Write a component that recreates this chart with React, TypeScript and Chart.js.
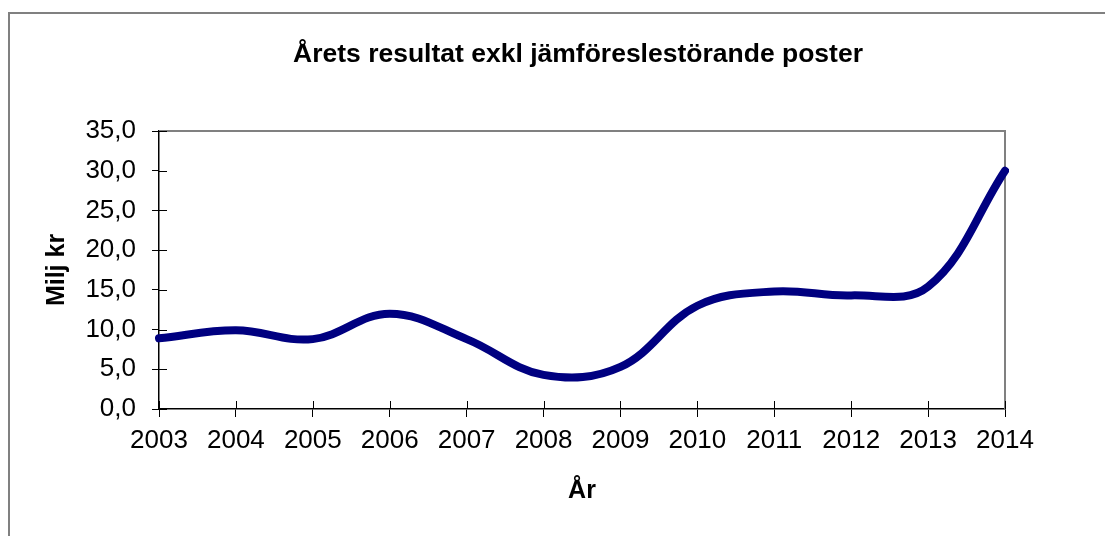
import React, { useEffect, useRef } from "react";
import { Chart, registerables } from "chart.js";

Chart.register(...registerables);

const years = ["2003", "2004", "2005", "2006", "2007", "2008", "2009", "2010", "2011", "2012", "2013", "2014"];
const resultat = [8.9, 9.9, 8.8, 12.0, 8.8, 4.3, 5.3, 13.0, 14.8, 14.3, 15.4, 30.0];
const yMin = 0;
const yMax = 35;
const yStep = 5;
const chartTitle = "Årets resultat exkl jämföreslestörande poster";
const yTitle = "Milj kr";
const xTitle = "År";

const FONT = '"Liberation Sans", Arial, Helvetica, sans-serif';

const framePlugin = {
  id: "excelFrame",
  beforeDatasetsDraw(chart: any) {
    const { ctx, chartArea, scales } = chart;
    const { left, right, top, bottom } = chartArea;
    ctx.save();
    ctx.strokeStyle = "#808080";
    ctx.lineWidth = 2;
    ctx.beginPath();
    ctx.moveTo(left, top);
    ctx.lineTo(right, top);
    ctx.lineTo(right, bottom);
    ctx.stroke();
    // inner halves of the crossing tick marks
    ctx.strokeStyle = "#000";
    ctx.lineWidth = 1;
    ctx.beginPath();
    scales.x.ticks.forEach((_: any, i: number) => {
      const px = Math.round(scales.x.getPixelForTick(i)) + 0.5;
      ctx.moveTo(px, bottom);
      ctx.lineTo(px, bottom - 8);
    });
    scales.y.ticks.forEach((_: any, i: number) => {
      const py = Math.round(scales.y.getPixelForTick(i)) + 0.5;
      ctx.moveTo(left, py);
      ctx.lineTo(left + 8, py);
    });
    ctx.stroke();
    ctx.restore();
  },
  afterDraw(chart: any) {
    const { ctx, chartArea } = chart;
    ctx.save();
    ctx.font = `bold 26.5px ${FONT}`;
    ctx.fillStyle = "#000";
    ctx.textAlign = "center";
    ctx.textBaseline = "alphabetic";
    ctx.fillText(chartTitle, (chartArea.left + chartArea.right) / 2 - 4, 62);
    ctx.restore();
  },
};

export default function App() {
  const canvasRef = useRef<HTMLCanvasElement | null>(null);

  useEffect(() => {
    if (!canvasRef.current) return;
    const chart = new Chart(canvasRef.current, {
      type: "line",
      data: {
        labels: years,
        datasets: [
          {
            label: chartTitle,
            data: resultat,
            borderColor: "#000080",
            backgroundColor: "#000080",
            borderWidth: 8,
            borderCapStyle: "round",
            borderJoinStyle: "round",
            tension: 0.38,
            pointRadius: 0,
            pointHoverRadius: 0,
            fill: false,
          },
        ],
      },
      options: {
        animation: false,
        responsive: false,
        layout: { padding: { top: 131, right: 104, bottom: 0, left: 0 } },
        plugins: {
          legend: { display: false },
          title: { display: false },
          tooltip: { enabled: false },
        },
        scales: {
          x: {
            type: "category",
            offset: false,
            afterFit: (scale: any) => {
              scale.height = 127;
            },
            grid: {
              display: true,
              drawOnChartArea: false,
              drawTicks: true,
              tickLength: 8,
              color: "#000",
              lineWidth: 1,
            },
            border: { display: true, color: "#000", width: 1.5 },
            ticks: {
              color: "#000",
              font: { family: FONT, size: 26 },
              padding: 8,
              autoSkip: false,
              maxRotation: 0,
              minRotation: 0,
            },
            title: {
              display: true,
              text: xTitle,
              color: "#000",
              font: { family: FONT, size: 25, weight: "bold" },
              padding: { top: 0, bottom: 30 },
            },
          },
          y: {
            min: yMin,
            max: yMax,
            afterFit: (scale: any) => {
              scale.width = 159;
            },
            grid: {
              display: true,
              drawOnChartArea: false,
              drawTicks: true,
              tickLength: 7,
              color: "#000",
              lineWidth: 1,
            },
            border: { display: true, color: "#000", width: 1.5 },
            ticks: {
              stepSize: yStep,
              color: "#000",
              font: { family: FONT, size: 26 },
              padding: 16,
              callback: (v: any) => Number(v).toFixed(1).replace(".", ","),
            },
            title: {
              display: true,
              text: yTitle,
              color: "#000",
              font: { family: FONT, size: 25, weight: "bold" },
              padding: { top: 42, bottom: 0 },
            },
          },
        },
      },
      plugins: [framePlugin],
    });
    return () => chart.destroy();
  }, []);

  return (
    <div style={{ position: "absolute", left: 0, top: 0, width: 1109, height: 536, background: "#fff" }}>
      <div
        style={{
          position: "absolute",
          left: 8,
          top: 12,
          width: 1097,
          height: 524,
          borderLeft: "2px solid #808080",
          borderTop: "2px solid #808080",
          boxSizing: "border-box",
        }}
      />
      <canvas
        ref={canvasRef}
        width={1109}
        height={536}
        style={{ position: "absolute", left: 0, top: 0, display: "block" }}
      />
    </div>
  );
}
